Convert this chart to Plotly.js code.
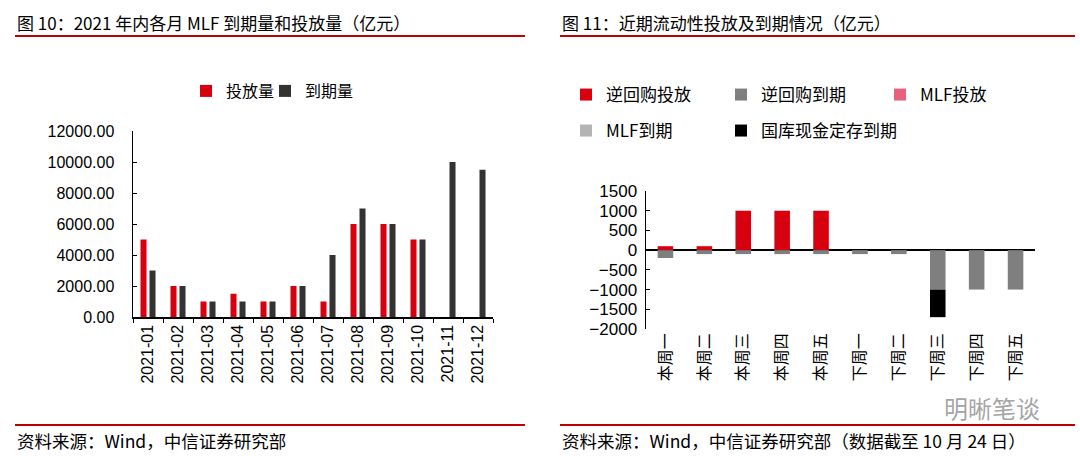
<!DOCTYPE html>
<html><head><meta charset="utf-8">
<script src="https://cdn.plot.ly/plotly-3.0.1.min.js"></script>
<style>html,body{margin:0;padding:0;background:#fff}#c{width:1080px;height:456px}</style>
</head><body><div id="c"></div>
<script>
// ---- Left chart data ----
const months = ['2021-01','2021-02','2021-03','2021-04','2021-05','2021-06','2021-07','2021-08','2021-09','2021-10','2021-11','2021-12'];
const mlfIssue = [5000,2000,1000,1500,1000,2000,1000,6000,6000,5000,null,null];
const mlfMature = [3000,2000,1000,1000,1000,2000,4000,7000,6000,5000,10000,9500];
// ---- Right chart data ----
const weeks = ['本周一','本周二','本周三','本周四','本周五','下周一','下周二','下周三','下周四','下周五'];
const rrIssue = [100,100,1000,1000,1000,0,0,0,0,0];
const rrMature = [-200,-100,-100,-100,-100,-100,-100,-1000,-1000,-1000];
const mlfIssueW = [0,0,0,0,0,0,0,0,0,0];
const mlfMatureW = [0,0,0,0,0,0,0,0,0,0];
const treasuryMature = [0,0,0,0,0,0,0,-700,0,0];

const FONT = 'Liberation Sans, Arial, Noto Sans CJK SC, sans-serif';
const CJK = 'Noto Sans CJK SC';
const RED = '#d7000f';

const traces = [
  {type:'bar', x:months, y:mlfIssue, name:'投放量', marker:{color:RED}, xaxis:'x', yaxis:'y', offsetgroup:'a', legend:'legend'},
  {type:'bar', x:months, y:mlfMature, name:'到期量', marker:{color:'#333333'}, xaxis:'x', yaxis:'y', offsetgroup:'b', legend:'legend2'},
  {type:'bar', x:weeks, y:rrIssue, name:'逆回购投放', marker:{color:RED}, xaxis:'x2', yaxis:'y2', width:0.4, legend:'legend3'},
  {type:'bar', x:weeks, y:rrMature, name:'逆回购到期', marker:{color:'#7f7f7f'}, xaxis:'x2', yaxis:'y2', width:0.4, legend:'legend4'},
  {type:'bar', x:weeks, y:mlfIssueW, name:'MLF投放', marker:{color:'#e8617b'}, xaxis:'x2', yaxis:'y2', width:0.4, legend:'legend5'},
  {type:'bar', x:weeks, y:mlfMatureW, name:'MLF到期', marker:{color:'#b4b4b4'}, xaxis:'x2', yaxis:'y2', width:0.4, legend:'legend6'},
  {type:'bar', x:weeks, y:treasuryMature, name:'国库现金定存到期', marker:{color:'#000000'}, xaxis:'x2', yaxis:'y2', width:0.4, legend:'legend7'}
];

const H = 456, W = 1080;
const px = v => v / W, py = v => 1 - v / H;
const leg = (x, y, size) => ({orientation:'h', x:px(x), y:py(y), xanchor:'left', yanchor:'middle',
  font:{size:size, family:CJK, color:'#000'}, bgcolor:'rgba(0,0,0,0)'});

const layout = {
  width: W, height: H,
  margin: {l:0, r:0, t:0, b:0},
  paper_bgcolor:'#fff', plot_bgcolor:'#fff',
  font: {family: FONT, size: 16, color:'#000'},
  barmode: 'relative',
  bargap: 0.4, bargroupgap: 0.33,
  showlegend: true,
  xaxis: {domain:[px(133), px(493)], anchor:'y', type:'category', showline:true, linecolor:'#000', linewidth:1.5,
          ticks:'outside', ticklen:4, tickcolor:'#000', tickson:'boundaries', tickangle:-90,
          tickfont:{size:16, family:FONT}, showgrid:false, zeroline:false},
  yaxis: {domain:[py(317), py(131)], anchor:'x', range:[0,12000], dtick:2000, tickformat:'.2f',
          showline:true, linecolor:'#000', linewidth:1.5, ticks:'inside', ticklen:4, tickcolor:'#000',
          showgrid:false, zeroline:false, tickfont:{size:16, family:FONT}, ticklabelstandoff:14},
  xaxis2: {domain:[px(646), px(1035)], anchor:'y2', type:'category', showline:false, ticks:'', tickangle:-90,
           tickfont:{size:16, family:CJK}, showgrid:false, zeroline:false},
  yaxis2: {domain:[py(329), py(191)], anchor:'x2', range:[-2000,1500], dtick:500,
           showline:true, linecolor:'#000', linewidth:1.5, ticks:'inside', ticklen:4, tickcolor:'#000',
           showgrid:false, zeroline:true, zerolinecolor:'#000', zerolinewidth:1.5,
           tickfont:{size:17, family:FONT}, ticklabelstandoff:4},
  legend: leg(186, 91, 16),
  legend2: leg(265, 91, 16),
  legend3: leg(566, 95, 17),
  legend4: leg(721, 95, 17),
  legend5: leg(880, 95, 17),
  legend6: leg(566, 131, 17),
  legend7: leg(721, 131, 17),
  shapes: [
    {type:'line', xref:'paper', yref:'paper', x0:px(15), x1:px(525), y0:py(36), y1:py(36), line:{color:'#c00000', width:2}},
    {type:'line', xref:'paper', yref:'paper', x0:px(560), x1:px(1075), y0:py(36), y1:py(36), line:{color:'#c00000', width:2}},
    {type:'line', xref:'paper', yref:'paper', x0:px(15), x1:px(525), y0:py(425), y1:py(425), line:{color:'#c00000', width:2}},
    {type:'line', xref:'paper', yref:'paper', x0:px(560), x1:px(1075), y0:py(425), y1:py(425), line:{color:'#c00000', width:2}}
  ],
  annotations: [
    {text:'图 10：2021 年内各月 MLF 到期量和投放量（亿元）', xref:'paper', yref:'paper', x:px(15), y:py(22), xanchor:'left', yanchor:'middle', showarrow:false, font:{size:17, family:CJK, color:'#000'}},
    {text:'图 11：近期流动性投放及到期情况（亿元）', xref:'paper', yref:'paper', x:px(560), y:py(22), xanchor:'left', yanchor:'middle', showarrow:false, font:{size:17, family:CJK, color:'#000'}},
    {text:'资料来源：Wind，中信证券研究部', xref:'paper', yref:'paper', x:px(15), y:py(440), xanchor:'left', yanchor:'middle', showarrow:false, font:{size:17.5, family:CJK, color:'#000'}},
    {text:'资料来源：Wind，中信证券研究部（数据截至 10 月 24 日）', xref:'paper', yref:'paper', x:px(560), y:py(440), xanchor:'left', yanchor:'middle', showarrow:false, font:{size:17.5, family:CJK, color:'#000'}},
    {text:'明晰笔谈', xref:'paper', yref:'paper', x:px(992), y:py(407), xanchor:'center', yanchor:'middle', showarrow:false, font:{size:24, family:CJK, color:'rgba(140,140,140,0.8)'}}
  ]
};

Plotly.newPlot('c', traces, layout, {displayModeBar:false, staticPlot:true});
</script>
</body></html>
